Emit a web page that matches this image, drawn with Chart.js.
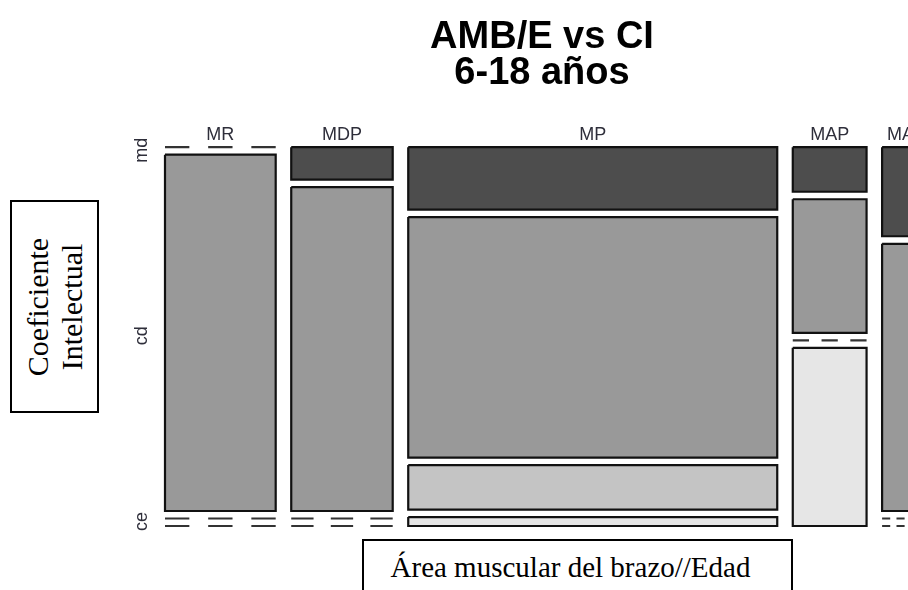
<!DOCTYPE html>
<html>
<head>
<meta charset="utf-8">
<script src="https://cdn.jsdelivr.net/npm/chart.js@4.4.1/dist/chart.umd.min.js"></script>
<style>
    html, body { margin: 0; padding: 0; background: #fff; overflow: hidden; }
    #wrap { position: relative; width: 1080px; height: 590px; }
    #boxY {
        position: absolute; left: 10px; top: 200px; width: 85px; height: 209px;
        border: 2px solid #000; background: #fff;
    }
    #boxY div {
        position: absolute; left: 50%; top: 50%; width: 209px; height: 68px;
        transform: translate(-50%, -50%) rotate(-90deg);
        font: 30px "Liberation Serif", "Times New Roman", serif; line-height: 34px;
        text-align: center; color: #000;
    }
    #boxX {
        position: absolute; left: 362px; top: 539px; width: 431px; height: 80px;
        border: 2px solid #000; background: #fff;
        font: 29px "Liberation Serif", "Times New Roman", serif; line-height: 34px;
        text-align: center; color: #000; padding-top: 9px; box-sizing: border-box;
        padding-right: 14px;
    }
</style>
</head>
<body>
<div id="wrap">
    <canvas id="mosaic" width="1080" height="590"></canvas>
    <div id="boxY"><div>Coeficiente<br>Intelectual</div></div>
    <div id="boxX">Área muscular del brazo//Edad</div>
</div>
<script>
// Categories (x: arm muscle area / age, y: intellectual coefficient)
const columns = ['MR', 'MDP', 'MP', 'MAP', 'MA'];
const levels = ['md', 'cd', 'ce', 'cs'];

// Counts per column for each CI level
const countMd = [0, 1, 7, 1, 1];
const countCd = [12, 10, 27, 3, 3];
const countCe = [0, 0, 5, 0, 0];
const countCs = [0, 0, 1, 4, 0];

const levelFills = ['#4d4d4d', '#999999', '#c4c4c4', '#e6e6e6'];
const gapX = 0.0206;
const gapY = 0.0198;

// Build mosaic tiles in data units (0..1 on both axes)
const counts = [countMd, countCd, countCe, countCs];
const colTotals = columns.map((c, j) => counts.reduce((s, arr) => s + arr[j], 0));
const grandTotal = colTotals.reduce((a, b) => a + b, 0);
const usableX = 1 - gapX * (columns.length - 1);
const usableY = 1 - gapY * (levels.length - 1);

const tiles = [];
const zeros = [];
const colCenters = [];
const levelPos = [];
let xPos = 0;
columns.forEach((name, j) => {
    const w = colTotals[j] / grandTotal * usableX;
    let yPos = 0;
    levels.forEach((lv, i) => {
        const h = counts[i][j] / colTotals[j] * usableY;
        if (h > 0) {
            tiles.push({ x0: xPos, x1: xPos + w, y0: yPos, y1: yPos + h, level: i });
        } else {
            zeros.push({ x0: xPos, w: w, y: yPos });
        }
        if (j === 0) levelPos.push(yPos + h / 2);
        yPos += h + gapY;
    });
    colCenters.push(xPos + w / 2);
    xPos += w + gapX;
});

const datasets = [];
tiles.forEach(t => {
    datasets.push({
        data: [
            { x: t.x0, y: t.y0 }, { x: t.x1, y: t.y0 },
            { x: t.x1, y: t.y1 }, { x: t.x0, y: t.y1 },
            { x: t.x0, y: t.y0 }
        ],
        fill: 'shape',
        backgroundColor: levelFills[t.level],
        borderColor: '#111111',
        borderWidth: 2.2,
        pointRadius: 0,
        tension: 0,
        clip: false
    });
});

// Empty cells are drawn as broken lines
const dashParts = [[0, 0.22], [0.39, 0.61], [0.78, 1]];
zeros.forEach(z => {
    const pts = [];
    dashParts.forEach((p, k) => {
        if (k > 0) pts.push({ x: z.x0 + z.w * (p[0] - 0.05), y: null });
        pts.push({ x: z.x0 + z.w * p[0], y: z.y });
        pts.push({ x: z.x0 + z.w * p[1], y: z.y });
    });
    datasets.push({
        data: pts,
        fill: false,
        borderColor: '#333333',
        borderWidth: 2.2,
        pointRadius: 0,
        spanGaps: false,
        clip: false
    });
});

// Column names on top, level names rotated on the left
const labelPlugin = {
    id: 'mosaicLabels',
    afterDraw(chart) {
        const { ctx, scales: { x, y } } = chart;
        ctx.save();
        ctx.fillStyle = '#2e2e3a';
        ctx.font = '18px "Liberation Sans", Arial, sans-serif';
        ctx.textAlign = 'center';
        ctx.textBaseline = 'bottom';
        columns.forEach((name, j) => {
            ctx.fillText(name, x.getPixelForValue(colCenters[j]), y.getPixelForValue(0) - 3);
        });
        // skip labels that would overlap the previous one, like R's axis()
        let lastEnd = -Infinity;
        levels.forEach((lv, i) => {
            const py = y.getPixelForValue(levelPos[i]);
            const half = ctx.measureText(lv).width / 2;
            if (py - half < lastEnd + 2) return;
            lastEnd = py + half;
            ctx.save();
            ctx.translate(x.getPixelForValue(0) - 23, py + 3);
            ctx.rotate(-Math.PI / 2);
            ctx.textBaseline = 'middle';
            ctx.fillText(lv, 0, 0);
            ctx.restore();
        });
        ctx.restore();
    }
};

new Chart(document.getElementById('mosaic'), {
    type: 'line',
    data: { datasets },
    options: {
        responsive: false,
        animation: false,
        layout: { padding: { left: 165, right: 161, top: 0, bottom: 64 } },
        scales: {
            x: { type: 'linear', min: 0, max: 1, display: false },
            y: { type: 'linear', min: 0, max: 1, reverse: true, display: false }
        },
        plugins: {
            legend: { display: false },
            tooltip: { enabled: false },
            title: {
                display: true,
                text: ['AMB/E vs CI', '6-18 años'],
                color: '#000',
                font: { family: '"Liberation Sans", Arial, sans-serif', size: 38, weight: 'bold', lineHeight: 0.95 },
                padding: { top: 19, bottom: 56 }
            }
        }
    },
    plugins: [labelPlugin]
});
</script>
</body>
</html>
